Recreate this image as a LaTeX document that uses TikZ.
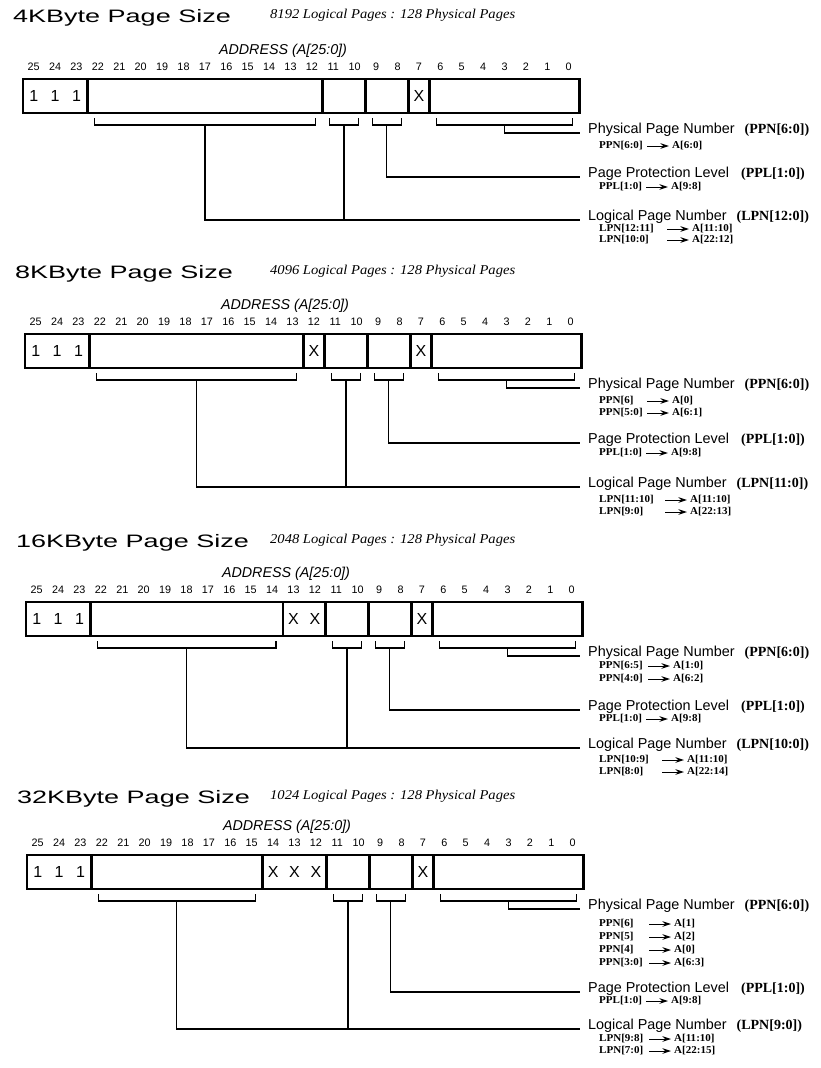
\documentclass[tikz,border=0pt]{standalone}
\usepackage{fontspec}
\setmainfont{Liberation Serif}
\setsansfont{Liberation Sans}
\newfontfamily\titlefont[FakeStretch=1.5]{Liberation Sans}
\newfontfamily\pagesfont[FakeStretch=1.08]{Liberation Serif}
\newfontfamily\mapfont[FakeStretch=1.05]{Liberation Serif}
\usepackage{tikz}
\usetikzlibrary{arrows.meta,positioning,calc}

\begin{document}
\begin{tikzpicture}[x=1pt,y=-1pt,
    field/.style={draw,line width=2.6pt},
    brace/.style={line width=1.4pt},
    link/.style={line width=1.3pt},
    bitno/.style={font=\sffamily\fontsize{10.8}{12}\selectfont,inner sep=0pt},
    cell/.style={font=\sffamily\fontsize{16}{18}\selectfont,inner sep=0pt},
    mainlab/.style={font=\sffamily\fontsize{14.4}{16}\selectfont,inner sep=0pt,anchor=base west},
    maplab/.style={font=\mapfont\bfseries\fontsize{10.5}{12}\selectfont,inner sep=0pt,anchor=west},
    maparrow/.style={line width=1pt,-{Stealth[length=8.5pt,width=5.5pt]}}]

  \useasboundingbox (0,0) rectangle (821,1068);
  \def\bw{21.4}

  % one row per page size: name / box left / box top / KB / pages / lowest LPN bit / LPN msb / PPL line / LPN line / title base
  \foreach \s/\xo/\yo/\kb/\np/\lo/\lw/\ppl/\lpn/\tb in {
      a/23/79/4/8192/12/12/98/141/-56,
      b/25/334/8/4096/13/11/109/153/-56,
      c/26/602/16/2048/14/10/108/146/-55,
      d/27/855/32/1024/15/9/137/174/-52}
  {
    \begin{scope}[yshift=-\yo pt]
      \pgfmathsetmacro\lx{26-\lo}

      % heading
      \node[anchor=base west,inner sep=0pt,font=\titlefont\fontsize{18}{20}\selectfont]
        (title\s) at (\xo-10,\tb) {\kb KByte Page Size};
      \node[anchor=base west,inner sep=0pt,font=\pagesfont\itshape\fontsize{13.5}{15}\selectfont]
        (pages\s) at (270,\tb-4) {\np{} Logical Pages : 128 Physical Pages};
      \node[inner sep=0pt,font=\sffamily\itshape\fontsize{14.3}{16}\selectfont]
        (addr\s) at (\xo+260,-28) {ADDRESS (A[25:0])};

      % bit numbers
      \foreach \i in {0,...,25}
        \node[bitno] (n\s\i) at ({\xo+(25.5-\i)*\bw},-12) {\i};

      % address register
      \draw[field] (\xo,0) rectangle ({\xo+26*\bw},34);
      \foreach \cx in {3,\lx,14,16,18,19}
        \draw[field] ({\xo+(\cx)*\bw},0) -- ({\xo+(\cx)*\bw},34);
      \foreach \i in {23,24,25}
        \node[cell] (one\s\i) at ({\xo+(25.5-\i)*\bw},17) {1};
      \node[cell] (x\s7) at ({\xo+18.5*\bw},17) {X};
      \foreach \i in {12,13,14}
        {\ifnum\i<\lo \node[cell] (x\s\i) at ({\xo+(25.5-\i)*\bw},17) {X};\fi}

      % brackets under the fields
      \foreach \b/\l/\r in {lpnlo/3/\lx, lpnhi/14/16, ppl/16/18, ppn/19/26}
      {
        \draw[brace] ({\xo+(\l)*\bw+7},39) -- ({\xo+(\l)*\bw+7},46)
          -- ({\xo+(\r)*\bw-7},46) -- ({\xo+(\r)*\bw-7},39);
        \coordinate (\b\s) at ({\xo+((\l)+(\r))*\bw/2},46);
      }

      % connectors to the labels
      \coordinate (ppnend\s) at (580,54);
      \coordinate (pplend\s) at (580,\ppl);
      \coordinate (lpnend\s) at (580,\lpn);
      \draw[link] (ppn\s) |- (ppnend\s);
      \draw[link] (ppl\s) |- (pplend\s);
      \draw[link] (lpnlo\s) |- (lpnend\s);
      \draw[link] (lpnhi\s) -- (lpnhi\s |- lpnend\s);

      \node[mainlab] (ppnlab\s) at ([xshift=8pt,yshift=-0.5pt]ppnend\s)
        {Physical Page Number\hspace{10pt}{\rmfamily\bfseries\fontsize{14}{16}\selectfont (PPN[6:0])}};
      \node[mainlab] (ppllab\s) at ([xshift=8pt,yshift=-0.5pt]pplend\s)
        {Page Protection Level\hspace{12pt}{\rmfamily\bfseries\fontsize{14}{16}\selectfont (PPL[1:0])}};
      \node[mainlab] (lpnlab\s) at ([xshift=8pt,yshift=-0.5pt]lpnend\s)
        {Logical Page Number\hspace{10pt}{\rmfamily\bfseries\fontsize{14}{16}\selectfont (LPN[\lw:0])}};
    \end{scope}
  }

  % bit mapping lines: left / right / arrow x / y
  \foreach \l/\r/\ax/\yy [count=\k] in {
      PPN[6:0]/A[6:0]/647/146, PPL[1:0]/A[9:8]/646/187,
      LPN[12:11]/A[11:10]/667/229, LPN[10:0]/A[22:12]/667/240,
      PPN[6]/A[0]/647/401, PPN[5:0]/A[6:1]/647/413, PPL[1:0]/A[9:8]/646/453,
      LPN[11:10]/A[11:10]/665/500, LPN[9:0]/A[22:13]/665/512,
      PPN[6:5]/A[1:0]/648/666, PPN[4:0]/A[6:2]/648/679, PPL[1:0]/A[9:8]/646/719,
      LPN[10:9]/A[11:10]/662/760, LPN[8:0]/A[22:14]/662/772,
      PPN[6]/A[1]/649/924, PPN[5]/A[2]/649/937, PPN[4]/A[0]/649/950,
      PPN[3:0]/A[6:3]/649/963, PPL[1:0]/A[9:8]/646/1001,
      LPN[9:8]/A[11:10]/649/1039, LPN[7:0]/A[22:15]/649/1051}
  {
    \node[maplab] (ml\k) at (599,\yy) {\l};
    \node[maplab] (mr\k) at (\ax+25,\yy) {\r};
    \coordinate (ma\k) at (\ax,\yy);
    \draw[maparrow] (ma\k) -- ([xshift=-3pt]mr\k.west);
  }
\end{tikzpicture}
\end{document}
